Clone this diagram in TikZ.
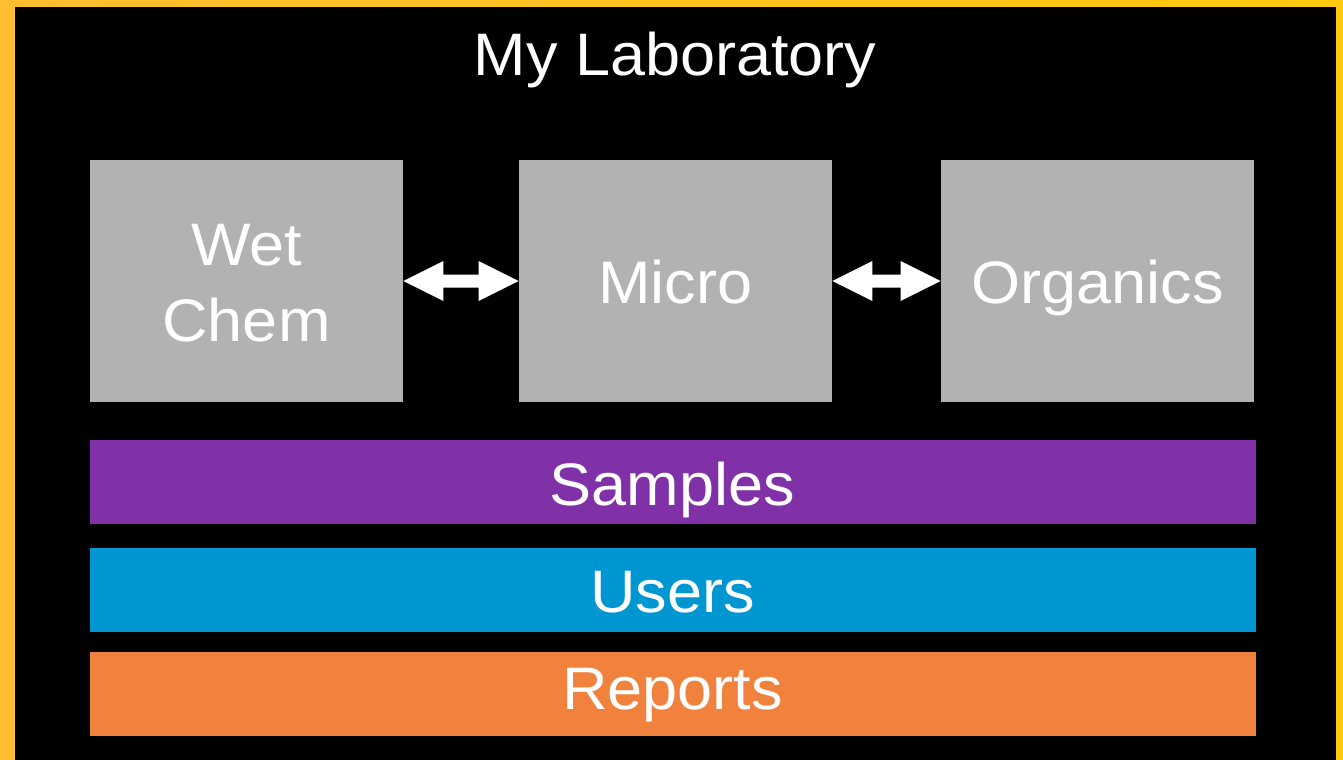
\documentclass[tikz,border=0pt]{standalone}
\usepackage{fontspec}
\setmainfont[FakeStretch=1.05]{Liberation Sans}
\usetikzlibrary{calc}
\definecolor{frameyelL}{RGB}{255,190,48}
\definecolor{frameyelR}{RGB}{255,201,14}
\definecolor{boxgray}{RGB}{178,178,178}
\definecolor{barpurple}{RGB}{128,49,167}
\definecolor{barblue}{RGB}{0,150,210}
\definecolor{barorange}{RGB}{240,130,62}
\tikzset{
  labbox/.style={rectangle, fill=boxgray, draw=none, minimum width=313*0.75pt, minimum height=242*0.75pt, inner sep=0pt},
  bar/.style={rectangle, draw=none, minimum width=1166*0.75pt, minimum height=84*0.75pt, inner sep=0pt},
  lbl/.style={text=white, font=\fontsize{45pt}{57.5pt}\selectfont, anchor=base, inner sep=0pt, align=center},
  dblarrow/.style={fill=white, draw=none}
}
\begin{document}
\begin{tikzpicture}[x=0.75pt, y=-0.75pt]
\useasboundingbox (0,0) rectangle (1343,760);
\shade[left color=frameyelL, right color=frameyelR] (0,0) rectangle (1343,760);
\fill[black] (15,7) rectangle (1336,760);

\node[lbl] (title) at (675,75) {My Laboratory};

\node[labbox] (wet) at (246.5,281) {};
\node[labbox] (micro) at (675.5,281) {};
\node[labbox] (org) at (1097.5,281) {};

\node[lbl] (wetlbl) at (246.5,265) {Wet};
\node[lbl] (chemlbl) at (246.5,341.7) {Chem};
\node[lbl] (microlbl) at (675.5,303) {Micro};
\node[lbl] (orglbl) at (1097.5,303) {Organics};

\node[bar, fill=barpurple] (samples) at (672.5,482) {};
\node[bar, fill=barblue] (users) at (672.5,590) {};
\node[bar, fill=barorange] (reports) at (672.5,694) {};

\node[lbl] (sampleslbl) at (672.5,505) {Samples};
\node[lbl] (userslbl) at (672.5,612) {Users};
\node[lbl] (reportslbl) at (672.5,709) {Reports};

\fill[dblarrow] (wet.east) -- ++(40,-20) -- ++(0,13.5) -- ($(micro.west)+(-40,-6.5)$) -- ++(0,-13.5) -- (micro.west) -- ++(-40,20) -- ++(0,-13.5) -- ($(wet.east)+(40,6.5)$) -- ++(0,13.5) -- cycle;
\fill[dblarrow] (micro.east) -- ++(40,-20) -- ++(0,13.5) -- ($(org.west)+(-40,-6.5)$) -- ++(0,-13.5) -- (org.west) -- ++(-40,20) -- ++(0,-13.5) -- ($(micro.east)+(40,6.5)$) -- ++(0,13.5) -- cycle;
\end{tikzpicture}
\end{document}
